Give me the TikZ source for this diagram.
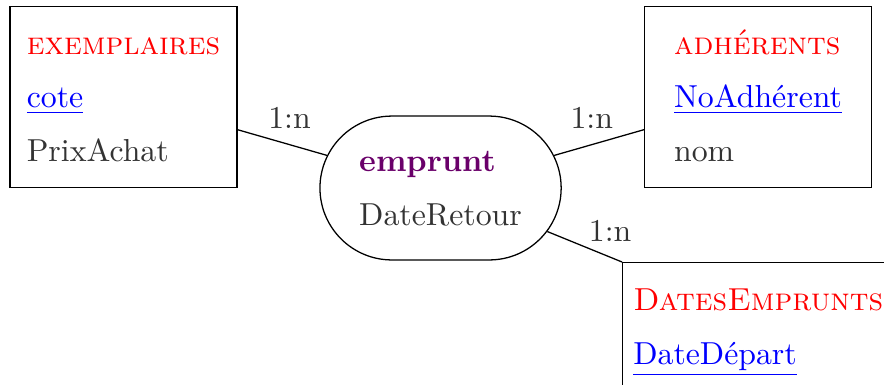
\documentclass[tikz,border=0pt]{standalone}
\usepackage{tikz}
\usetikzlibrary{positioning,shapes.misc}
\definecolor{Rouge}{HTML}{FF0000}
\definecolor{Bleu}{HTML}{0000FF}
\definecolor{Prune}{HTML}{6A006A}
\definecolor{Encre}{HTML}{333333}
\renewcommand{\arraystretch}{1.4}
\newcommand{\nomentite}[1]{\textcolor{Rouge}{\textsc{#1}}}
\newcommand{\cle}[1]{\textcolor{Bleu}{\underline{#1}}}

\begin{document}
\begin{tikzpicture}[x=1cm,y=1cm,
    entite/.style={draw,text=Encre,minimum width=2.51cm,inner sep=0.3333em},
    relation/.style={draw,rounded rectangle,text=Encre,minimum width=2.9cm,minimum height=1.59cm},
    card/.style={above=1.5pt,text=Encre}]
  \useasboundingbox (0,0) rectangle (9.77,4.255);

  % entites
  \node[entite] (exemplaires) at (1.365,3.183)
    {\begin{tabular}{@{}l@{}}\nomentite{exemplaires}\\ \cle{cote}\\ PrixAchat\end{tabular}};
  \node[entite] (adherents) at (8.378,3.183)
    {\begin{tabular}{@{}l@{}}\nomentite{adhérents}\\ \cle{NoAdhérent}\\ nom\end{tabular}};
  \node[entite,anchor=north west] (dates) at (6.875,1.359)
    {\begin{tabular}{@{}l@{}}\nomentite{DatesEmprunts}\\ \cle{DateDépart}\end{tabular}};

  % association
  \node[relation] (emprunt) at (4.869,2.177)
    {\begin{tabular}{@{}l@{}}\textcolor{Prune}{\textbf{emprunt}}\\ DateRetour\end{tabular}};

  \draw (exemplaires) -- node[card,pos=0.58] {1:n} (emprunt);
  \draw (adherents) -- node[card,pos=0.58] {1:n} (emprunt);
  \draw (emprunt) -- node[card,pos=0.84] {1:n} (dates.north west);
\end{tikzpicture}
\end{document}
